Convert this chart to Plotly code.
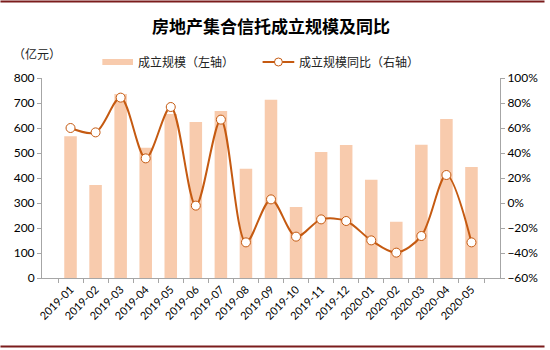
import plotly.graph_objects as go

categories = ["2019-01", "2019-02", "2019-03", "2019-04", "2019-05", "2019-06",
              "2019-07", "2019-08", "2019-09", "2019-10", "2019-11", "2019-12",
              "2020-01", "2020-02", "2020-03", "2020-04", "2020-05"]
scale_values = [567, 372, 736, 521, 656, 624, 668, 437, 713, 284, 504, 532,
                393, 225, 533, 636, 444]
yoy_values = [60.0, 56.5, 84.3, 35.7, 76.8, -2.1, 66.7, -31.5, 2.9, -26.9,
              -13.1, -14.4, -29.9, -39.7, -26.4, 22.4, -31.5]

W, H = 550, 350
L, R, T, B = 42, 505, 78, 278

def px(x):
    return (x - L) / (R - L)

def py(y):
    return (B - y) / (B - T)

BAR_C = "#F8CBAD"
LINE_C = "#C55A11"
AX_C = "#A6A6A6"
TXT = "#000000"
CJK = "Noto Sans CJK SC"
NUM = "Lato, Carlito, Calibri, sans-serif"

fig = go.Figure()
fig.add_trace(go.Bar(
    x=categories, y=scale_values, name="成立规模（左轴）",
    marker=dict(color=BAR_C, line=dict(width=0)), yaxis="y",
))
fig.add_trace(go.Scatter(
    x=categories, y=yoy_values, name="成立规模同比（右轴）",
    mode="lines+markers", yaxis="y2",
    line=dict(color=LINE_C, width=2, shape="spline", smoothing=0.9),
    marker=dict(size=9, color="white", line=dict(color=LINE_C, width=1)),
))

shapes = []
annotations = []

# borders
for yy in (1.5, 346.5):
    shapes.append(dict(type="line", xref="paper", yref="paper",
                       x0=px(0), x1=px(W), y0=py(yy), y1=py(yy),
                       line=dict(color="#7B1C1C", width=2)))

# custom legend
shapes.append(dict(type="rect", xref="paper", yref="paper",
                   x0=px(103), x1=px(134), y0=py(65), y1=py(59),
                   fillcolor=BAR_C, line=dict(width=0)))
shapes.append(dict(type="line", xref="paper", yref="paper",
                   x0=px(265), x1=px(297), y0=py(62), y1=py(62),
                   line=dict(color=LINE_C, width=2)))
shapes.append(dict(type="circle", xref="paper", yref="paper",
                   x0=px(277), x1=px(285), y0=py(66), y1=py(58),
                   fillcolor="white", line=dict(color=LINE_C, width=1)))
annotations.append(dict(text="成立规模（左轴）", xref="paper", yref="paper",
                        x=px(137), y=py(62), xanchor="left", yanchor="middle",
                        showarrow=False, font=dict(family=CJK, size=12, color="#222")))
annotations.append(dict(text="成立规模同比（右轴）", xref="paper", yref="paper",
                        x=px(300), y=py(62), xanchor="left", yanchor="middle",
                        showarrow=False, font=dict(family=CJK, size=12, color="#222")))
annotations.append(dict(text="（亿元）", xref="paper", yref="paper",
                        x=px(11), y=py(54), xanchor="left", yanchor="middle",
                        showarrow=False, font=dict(family=CJK, size=12, color="#222")))
annotations.append(dict(text="<b>房地产集合信托成立规模及同比</b>", xref="paper", yref="paper",
                        x=px(273), y=py(25), xanchor="center", yanchor="middle",
                        showarrow=False, font=dict(family=CJK, size=17, color=TXT)))

fig.update_layout(
    width=W, height=H,
    margin=dict(l=L, r=W - R, t=T, b=H - B, pad=0),
    paper_bgcolor="white", plot_bgcolor="white",
    showlegend=False, bargap=0.5,
    xaxis=dict(type="category", showline=True, linecolor=AX_C, linewidth=1,
               ticks="outside", tickson="boundaries", ticklen=4, tickcolor=AX_C,
               tickangle=-45, tickfont=dict(family=NUM, size=11, color=TXT),
               showgrid=False, zeroline=False),
    yaxis=dict(range=[0, 800], dtick=100, showline=True, linecolor=AX_C, linewidth=1,
               ticks="outside", ticklen=4, tickcolor=AX_C, showgrid=False, zeroline=False,
               tickfont=dict(family=NUM, size=12, color=TXT)),
    yaxis2=dict(range=[-60, 100], dtick=20, ticksuffix="%", overlaying="y", side="right",
                showline=True, linecolor=AX_C, linewidth=1, ticks="outside", ticklen=4,
                tickcolor=AX_C, showgrid=False, zeroline=False,
                tickfont=dict(family=NUM, size=12, color=TXT)),
    shapes=shapes, annotations=annotations,
)

fig.write_html("out.html")
